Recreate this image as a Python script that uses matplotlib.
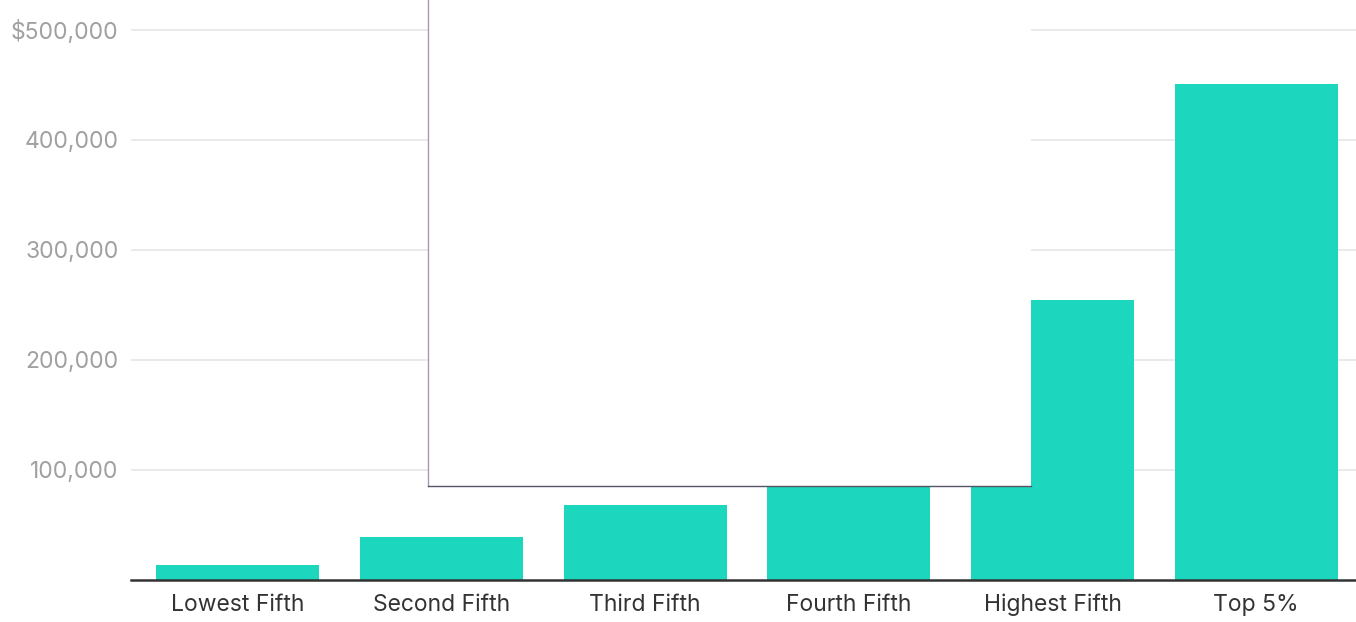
import matplotlib.pyplot as plt
from matplotlib.patches import Rectangle
from matplotlib.lines import Line2D

plt.rcParams['font.family'] = ['Inter', 'DejaVu Sans']

# mean household income by quintile
groups = ['Lowest Fifth', 'Second Fifth', 'Third Fifth', 'Fourth Fifth', 'Highest Fifth', 'Top 5%']
income = [13600, 39000, 68000, 110000, 254500, 451000]
yticks = [100000, 200000, 300000, 400000, 500000]
ylabels = ['100,000', '200,000', '300,000', '400,000', '$500,000']

fig = plt.figure(figsize=(13.56, 6.22), dpi=100)
ax = fig.add_axes([0.0966, 0.0675, 0.9034, 0.9325])

x = range(len(groups))
ax.bar(x, income, width=0.8, color='#1dd6be', zorder=2)

ax.set_xlim(-0.525, 5.49)
ax.set_ylim(0, 527000)
ax.set_xticks(list(x))
ax.set_xticklabels(groups, fontsize=16.5, color='#333333')
ax.set_yticks(yticks)
ax.set_yticklabels(ylabels, fontsize=16.5, color='#a0a0a0')
ax.tick_params(axis='x', length=0, pad=10)
ax.tick_params(axis='y', length=0, pad=9)

ax.grid(axis='y', color='#e6e6e6', linewidth=1.2, zorder=0)
ax.set_axisbelow(True)
for s in ['top', 'right', 'left']:
    ax.spines[s].set_visible(False)
ax.spines['bottom'].set_color('#333333')
ax.spines['bottom'].set_linewidth(1.8)
ax.spines['bottom'].set_zorder(3)

# empty tooltip box sitting over the chart
box = Rectangle((0.3156, 0.2186), 0.4447, 0.8, transform=fig.transFigure,
                facecolor='white', edgecolor='none', zorder=5)
fig.patches.append(box)
fig.lines.append(Line2D([0.3156, 0.3156], [0.2186, 1.0], transform=fig.transFigure,
                        color='#a898b8', linewidth=1, zorder=6))
fig.lines.append(Line2D([0.3156, 0.7603], [0.2186, 0.2186], transform=fig.transFigure,
                        color='#555566', linewidth=1, zorder=6))

plt.savefig('out.png', dpi=100)
